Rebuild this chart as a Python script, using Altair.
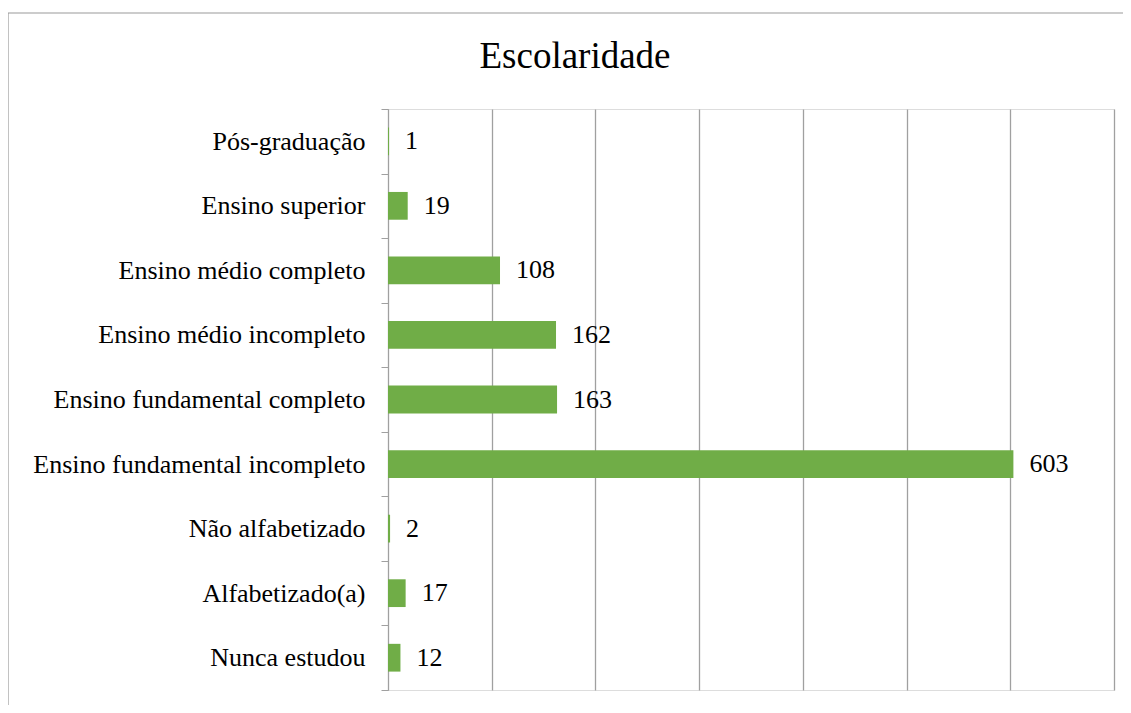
import altair as alt
import pandas as pd

categories = [
    "Pós-graduação",
    "Ensino superior",
    "Ensino médio completo",
    "Ensino médio incompleto",
    "Ensino fundamental completo",
    "Ensino fundamental incompleto",
    "Não alfabetizado",
    "Alfabetizado(a)",
    "Nunca estudou",
]
values = [1, 19, 108, 162, 163, 603, 2, 17, 12]
grid_values = [0, 100, 200, 300, 400, 500, 600, 700]
title_text = "Escolaridade"

df = pd.DataFrame({"cat": categories, "val": values})

FONT = "'Liberation Serif', 'Times New Roman', Times, 'DejaVu Serif', serif"
GRAY = "#a0a0a0"
GREEN = "#70AD47"

y_enc = alt.Y(
    "cat:N",
    sort=categories,
    scale=alt.Scale(paddingInner=0, paddingOuter=0),
    axis=alt.Axis(
        title=None,
        labelFont=FONT,
        labelFontSize=26,
        labelColor="#000000",
        labelPadding=16,
        labelLimit=0,
        tickSize=7,
        tickColor=GRAY,
        domainColor=GRAY,
        tickBand="extent",
        grid=False,
    ),
)
x_enc = alt.X(
    "val:Q",
    scale=alt.Scale(domain=[0, 700], nice=False),
    axis=alt.Axis(
        title=None,
        labels=False,
        ticks=False,
        domain=False,
        grid=True,
        values=grid_values,
        gridColor=GRAY,
        gridWidth=1.3,
    ),
)

base = alt.Chart(df)

bars = base.mark_bar(color=GREEN, height=alt.RelativeBandSize(0.43)).encode(x=x_enc, y=y_enc)

labels = base.mark_text(
    align="left", baseline="middle", dx=16, font=FONT, fontSize=26, color="#000000"
).encode(x="val:Q", y=alt.Y("cat:N", sort=categories), text="val:Q")

title = alt.Chart(pd.DataFrame({"t": [title_text]})).mark_text(
    align="center", baseline="alphabetic", font=FONT, fontSize=37, color="#000000"
).encode(x=alt.value(187), y=alt.value(-41), text="t:N")

frame = alt.Chart(pd.DataFrame({"t": [0]})).mark_rect(
    fill=None, stroke="#999999", strokeWidth=1.2, clip=False
).encode(x=alt.value(-380), y=alt.value(-96), x2=alt.value(760), y2=alt.value(620))

chart = (
    alt.layer(frame, bars, labels, title)
    .properties(
        width=726,
        height=581,
        autosize=alt.AutoSizeParams(type="none"),
        padding={"left": 380, "top": 101, "right": 9, "bottom": 15},
    )
    .configure_view(stroke=None)
    .configure(background="white")
)

chart.save("out.html", embed_options={"renderer": "svg", "actions": False})
